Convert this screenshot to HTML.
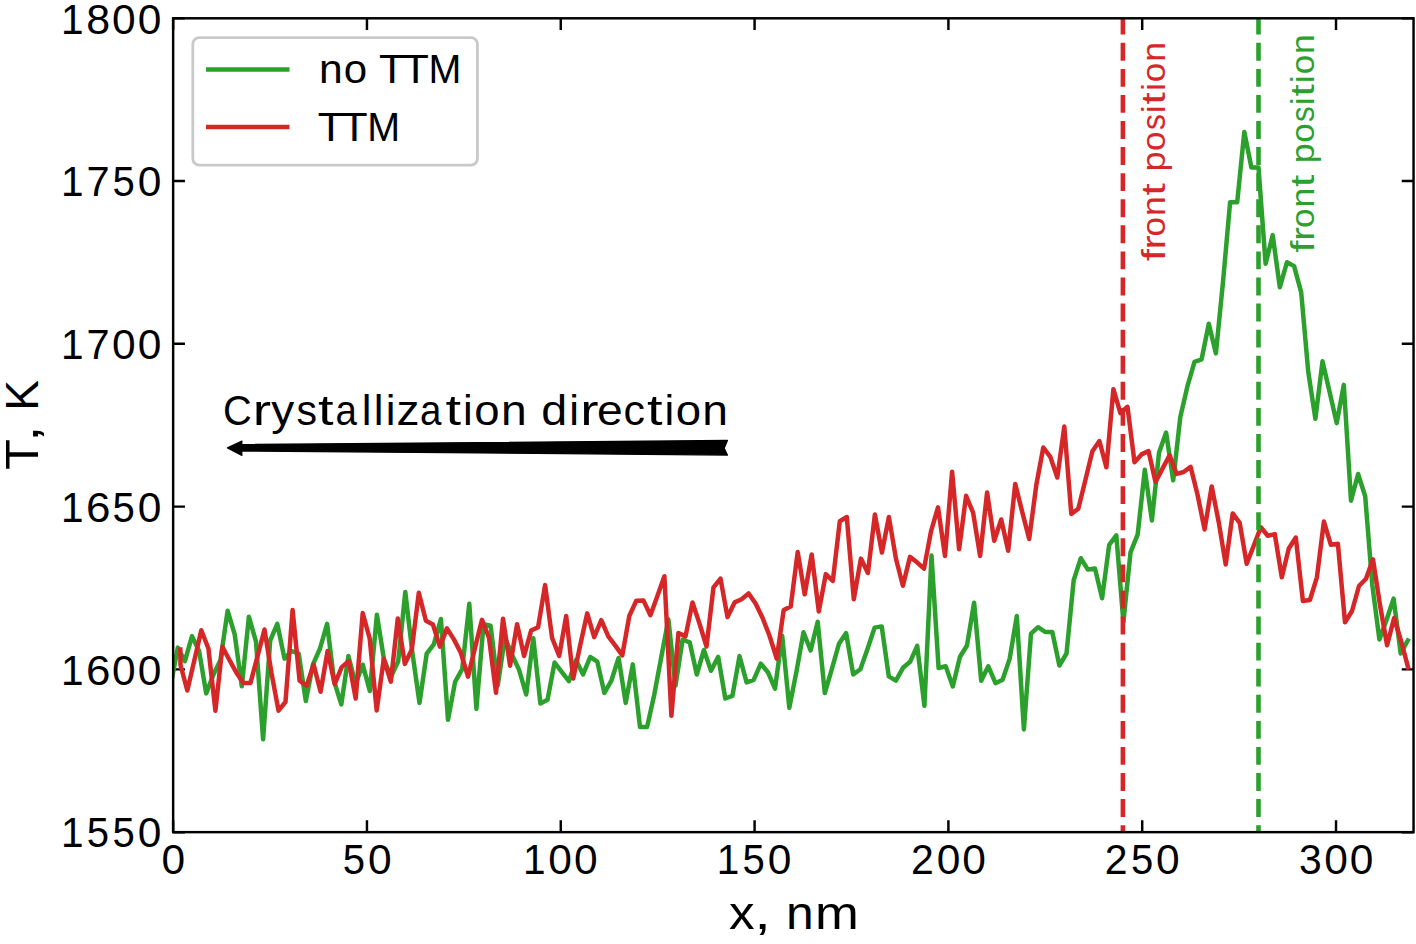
<!DOCTYPE html>
<html><head><meta charset="utf-8"><style>html,body{margin:0;padding:0;background:#fff;}svg{display:block;}</style></head>
<body><svg width="1416" height="944" viewBox="0 0 1416 944">
<rect width="1416" height="944" fill="#fff"/>
<defs><clipPath id="ax"><rect x="173.15" y="18.3" width="1240.3999999999999" height="813.85"/></clipPath></defs>
<g stroke="#000" stroke-width="2.45" fill="none" stroke-linecap="butt">
<path d="M173.15,832.15 V820.35 M173.15,18.3 V30.1"/>
<path d="M366.96,832.15 V820.35 M366.96,18.3 V30.1"/>
<path d="M560.77,832.15 V820.35 M560.77,18.3 V30.1"/>
<path d="M754.59,832.15 V820.35 M754.59,18.3 V30.1"/>
<path d="M948.40,832.15 V820.35 M948.40,18.3 V30.1"/>
<path d="M1142.21,832.15 V820.35 M1142.21,18.3 V30.1"/>
<path d="M1336.02,832.15 V820.35 M1336.02,18.3 V30.1"/>
<path d="M173.15,832.15 H184.95000000000002 M1413.55,832.15 H1401.75"/>
<path d="M173.15,669.38 H184.95000000000002 M1413.55,669.38 H1401.75"/>
<path d="M173.15,506.61 H184.95000000000002 M1413.55,506.61 H1401.75"/>
<path d="M173.15,343.84 H184.95000000000002 M1413.55,343.84 H1401.75"/>
<path d="M173.15,181.07 H184.95000000000002 M1413.55,181.07 H1401.75"/>
<path d="M173.15,18.30 H184.95000000000002 M1413.55,18.30 H1401.75"/>
</g>
<g clip-path="url(#ax)" fill="none" stroke-linejoin="round" stroke-linecap="square" stroke-width="4.5">
<path d="M170.7,685.0 L177.8,647.6 L184.9,661.2 L192.0,636.1 L199.1,651.0 L206.2,693.4 L213.4,674.7 L220.5,660.0 L227.6,610.7 L234.7,634.4 L241.8,686.3 L248.9,616.8 L256.0,641.7 L263.1,739.3 L270.2,640.5 L277.3,623.9 L284.5,658.6 L291.6,651.0 L298.7,653.6 L305.8,701.0 L312.9,664.6 L320.0,648.5 L327.1,623.9 L334.2,681.5 L341.3,704.4 L348.4,656.1 L355.6,684.0 L362.7,664.7 L369.8,691.0 L376.9,614.7 L384.0,659.7 L391.1,676.6 L398.2,661.4 L405.3,591.9 L412.4,652.9 L419.5,702.9 L426.7,653.7 L433.8,644.4 L440.9,619.0 L448.0,719.8 L455.1,681.8 L462.2,669.1 L469.3,603.8 L476.4,708.9 L483.5,624.2 L490.6,625.8 L497.8,685.2 L504.9,637.7 L512.0,654.7 L519.1,669.9 L526.2,694.5 L533.3,638.3 L540.4,703.5 L547.5,699.8 L554.6,662.5 L561.7,671.9 L568.9,681.2 L576.0,660.0 L583.1,674.4 L590.2,657.0 L597.3,661.7 L604.4,693.0 L611.5,680.3 L618.6,658.0 L625.7,702.9 L632.8,664.4 L640.0,726.9 L647.1,726.9 L654.2,695.0 L661.3,657.0 L668.4,619.4 L675.5,685.6 L682.6,639.7 L689.7,642.3 L696.8,674.5 L703.9,650.0 L711.0,670.8 L718.2,656.9 L725.3,698.5 L732.4,695.9 L739.5,656.1 L746.6,682.4 L753.7,679.8 L760.8,663.7 L767.9,672.2 L775.0,688.6 L782.2,635.9 L789.3,707.9 L796.4,671.9 L803.5,632.3 L810.6,650.5 L817.7,621.8 L824.8,693.1 L831.9,668.8 L839.0,643.7 L846.1,633.0 L853.2,674.4 L860.4,669.2 L867.5,649.0 L874.6,627.6 L881.7,626.4 L888.8,676.4 L895.9,680.7 L903.0,667.8 L910.1,661.8 L917.2,645.8 L924.4,705.8 L931.5,555.6 L938.6,668.0 L945.7,666.2 L952.8,686.5 L959.9,657.0 L967.0,645.5 L974.1,602.7 L981.2,680.7 L988.3,666.3 L995.5,683.2 L1002.6,679.8 L1009.7,658.6 L1016.8,616.0 L1023.9,729.4 L1031.0,633.6 L1038.1,627.2 L1045.2,632.0 L1052.3,632.0 L1059.4,665.5 L1066.5,653.5 L1073.7,580.1 L1080.8,558.2 L1087.9,569.6 L1095.0,568.6 L1102.1,598.2 L1109.2,544.8 L1116.3,535.3 L1123.4,622.0 L1130.5,552.4 L1137.7,534.3 L1144.8,469.8 L1151.9,520.5 L1159.0,452.8 L1166.1,432.5 L1173.2,480.3 L1180.3,417.0 L1187.4,386.4 L1194.5,361.9 L1201.6,359.3 L1208.8,323.7 L1215.9,353.4 L1223.0,282.0 L1230.1,202.3 L1237.2,202.3 L1244.3,132.0 L1251.4,167.5 L1258.5,167.5 L1265.6,263.8 L1272.7,235.1 L1279.8,287.3 L1287.0,262.2 L1294.1,266.1 L1301.2,292.4 L1308.3,372.2 L1315.4,418.8 L1322.5,361.2 L1329.6,392.0 L1336.7,423.1 L1343.8,384.9 L1351.0,500.7 L1358.1,474.0 L1365.2,496.3 L1372.3,585.0 L1379.4,639.5 L1386.5,620.0 L1393.6,598.6 L1400.7,653.4 L1407.8,640.5" stroke="#2ca02c"/>
<path d="M180.3,649.5 L180.5,665.0 L187.3,690.5 L194.3,660.5 L201.3,630.3 L208.4,648.5 L215.4,710.7 L222.4,646.8 L229.4,660.0 L236.4,672.7 L243.4,682.9 L250.5,682.9 L257.5,656.4 L264.5,629.5 L271.5,673.2 L278.5,710.7 L285.5,701.9 L292.6,610.0 L299.6,680.7 L306.6,685.8 L313.6,664.6 L320.6,691.7 L327.6,651.0 L334.7,684.1 L341.7,667.1 L348.7,661.2 L355.7,698.5 L362.7,613.1 L369.7,638.5 L376.7,710.5 L383.8,658.8 L390.8,681.7 L397.8,618.6 L404.8,663.9 L411.8,649.5 L418.8,592.7 L425.9,620.7 L432.9,624.4 L439.9,646.6 L446.9,628.4 L453.9,639.4 L460.9,653.0 L468.0,676.7 L475.0,647.9 L482.0,619.9 L489.0,637.7 L496.0,692.8 L503.0,618.7 L510.1,665.7 L517.1,624.2 L524.1,656.0 L531.1,630.6 L538.1,627.2 L545.1,585.1 L552.1,638.0 L559.2,655.8 L566.2,615.9 L573.2,678.6 L580.2,645.3 L587.2,613.4 L594.2,637.1 L601.3,620.2 L608.3,636.3 L615.3,645.6 L622.3,655.4 L629.3,616.0 L636.3,600.8 L643.4,600.4 L650.4,615.2 L657.4,596.0 L664.4,576.2 L671.4,715.8 L678.4,633.0 L685.5,636.4 L692.5,602.5 L699.5,623.6 L706.5,646.5 L713.5,587.3 L720.5,578.6 L727.5,617.1 L734.6,602.4 L741.6,599.3 L748.6,593.4 L755.6,603.6 L762.6,618.0 L769.6,636.0 L776.7,658.7 L783.7,610.0 L790.7,606.6 L797.7,552.0 L804.7,594.3 L811.7,554.5 L818.8,611.4 L825.8,574.1 L832.8,581.0 L839.8,521.2 L846.8,517.0 L853.8,599.3 L860.9,558.6 L867.9,573.0 L874.9,514.4 L881.9,552.5 L888.9,517.0 L895.9,558.5 L902.9,585.7 L910.0,556.9 L917.0,562.3 L924.0,568.7 L931.0,531.4 L938.0,507.4 L945.0,555.9 L952.1,471.8 L959.1,549.2 L966.1,495.8 L973.1,512.7 L980.1,555.9 L987.1,492.4 L994.2,540.7 L1001.2,519.5 L1008.2,550.8 L1015.2,483.9 L1022.2,511.9 L1029.2,539.0 L1036.3,485.0 L1043.3,447.5 L1050.3,456.9 L1057.3,477.5 L1064.3,426.6 L1071.3,513.9 L1078.3,508.8 L1085.4,480.0 L1092.4,451.2 L1099.4,441.0 L1106.4,467.3 L1113.4,389.2 L1120.4,413.1 L1127.5,406.8 L1134.5,462.3 L1141.5,454.4 L1148.5,451.1 L1155.5,482.0 L1162.5,468.6 L1169.6,455.3 L1176.6,473.9 L1183.6,472.0 L1190.6,466.9 L1197.6,495.0 L1204.6,529.5 L1211.7,486.4 L1218.7,522.0 L1225.7,564.5 L1232.7,513.4 L1239.7,522.8 L1246.7,563.8 L1253.7,545.8 L1260.8,527.3 L1267.8,535.8 L1274.8,534.1 L1281.8,577.3 L1288.8,548.5 L1295.8,537.5 L1302.9,601.0 L1309.9,600.0 L1316.9,577.3 L1323.9,521.6 L1330.9,544.8 L1337.9,543.8 L1345.0,622.3 L1352.0,611.0 L1359.0,586.0 L1366.0,578.8 L1373.0,559.3 L1380.0,605.0 L1387.1,645.3 L1394.1,618.0 L1401.1,641.0 L1408.1,667.4" stroke="#d62728"/>
<path d="M1122.9,-9.36 L1122.9,862.15" stroke="#d62728" stroke-width="4.6" stroke-linecap="butt" stroke-dasharray="17.9 8.18"/>
<path d="M1258.5,-9.36 L1258.5,862.15" stroke="#2ca02c" stroke-width="4.6" stroke-linecap="butt" stroke-dasharray="17.9 8.18"/>
</g>
<rect x="173.15" y="18.3" width="1240.3999999999999" height="813.85" fill="none" stroke="#000" stroke-width="2.45" stroke-linejoin="miter"/>
<text font-family="Liberation Sans, sans-serif" font-size="42.5" fill="#000" y="874.0"><tspan x="161.54" textLength="23.63" lengthAdjust="spacingAndGlyphs">0</tspan></text>
<text font-family="Liberation Sans, sans-serif" font-size="42.5" fill="#000" y="874.0"><tspan x="342.81" textLength="22.30" lengthAdjust="spacingAndGlyphs">5</tspan><tspan x="367.94" textLength="23.63" lengthAdjust="spacingAndGlyphs">0</tspan></text>
<text font-family="Liberation Sans, sans-serif" font-size="42.5" fill="#000" y="874.0"><tspan x="522.98" textLength="22.57" lengthAdjust="spacingAndGlyphs">1</tspan><tspan x="548.28" textLength="23.63" lengthAdjust="spacingAndGlyphs">0</tspan><tspan x="573.92" textLength="23.63" lengthAdjust="spacingAndGlyphs">0</tspan></text>
<text font-family="Liberation Sans, sans-serif" font-size="42.5" fill="#000" y="874.0"><tspan x="716.79" textLength="22.57" lengthAdjust="spacingAndGlyphs">1</tspan><tspan x="742.60" textLength="22.30" lengthAdjust="spacingAndGlyphs">5</tspan><tspan x="767.73" textLength="23.63" lengthAdjust="spacingAndGlyphs">0</tspan></text>
<text font-family="Liberation Sans, sans-serif" font-size="42.5" fill="#000" y="874.0"><tspan x="910.89" textLength="22.77" lengthAdjust="spacingAndGlyphs">2</tspan><tspan x="936.64" textLength="23.63" lengthAdjust="spacingAndGlyphs">0</tspan><tspan x="962.28" textLength="23.63" lengthAdjust="spacingAndGlyphs">0</tspan></text>
<text font-family="Liberation Sans, sans-serif" font-size="42.5" fill="#000" y="874.0"><tspan x="1104.71" textLength="22.77" lengthAdjust="spacingAndGlyphs">2</tspan><tspan x="1130.96" textLength="22.30" lengthAdjust="spacingAndGlyphs">5</tspan><tspan x="1156.09" textLength="23.63" lengthAdjust="spacingAndGlyphs">0</tspan></text>
<text font-family="Liberation Sans, sans-serif" font-size="42.5" fill="#000" y="874.0"><tspan x="1299.08" textLength="22.69" lengthAdjust="spacingAndGlyphs">3</tspan><tspan x="1324.21" textLength="23.63" lengthAdjust="spacingAndGlyphs">0</tspan><tspan x="1349.85" textLength="23.63" lengthAdjust="spacingAndGlyphs">0</tspan></text>
<text font-family="Liberation Sans, sans-serif" font-size="42.5" fill="#000" y="847.35"><tspan x="61.05" textLength="22.57" lengthAdjust="spacingAndGlyphs">1</tspan><tspan x="86.86" textLength="22.30" lengthAdjust="spacingAndGlyphs">5</tspan><tspan x="112.50" textLength="22.30" lengthAdjust="spacingAndGlyphs">5</tspan><tspan x="137.63" textLength="23.63" lengthAdjust="spacingAndGlyphs">0</tspan></text>
<text font-family="Liberation Sans, sans-serif" font-size="42.5" fill="#000" y="684.58"><tspan x="61.05" textLength="22.57" lengthAdjust="spacingAndGlyphs">1</tspan><tspan x="85.94" textLength="24.45" lengthAdjust="spacingAndGlyphs">6</tspan><tspan x="111.99" textLength="23.63" lengthAdjust="spacingAndGlyphs">0</tspan><tspan x="137.63" textLength="23.63" lengthAdjust="spacingAndGlyphs">0</tspan></text>
<text font-family="Liberation Sans, sans-serif" font-size="42.5" fill="#000" y="521.81"><tspan x="61.05" textLength="22.57" lengthAdjust="spacingAndGlyphs">1</tspan><tspan x="85.94" textLength="24.45" lengthAdjust="spacingAndGlyphs">6</tspan><tspan x="112.50" textLength="22.30" lengthAdjust="spacingAndGlyphs">5</tspan><tspan x="137.63" textLength="23.63" lengthAdjust="spacingAndGlyphs">0</tspan></text>
<text font-family="Liberation Sans, sans-serif" font-size="42.5" fill="#000" y="359.03999999999996"><tspan x="61.05" textLength="22.57" lengthAdjust="spacingAndGlyphs">1</tspan><tspan x="86.53" textLength="23.11" lengthAdjust="spacingAndGlyphs">7</tspan><tspan x="111.99" textLength="23.63" lengthAdjust="spacingAndGlyphs">0</tspan><tspan x="137.63" textLength="23.63" lengthAdjust="spacingAndGlyphs">0</tspan></text>
<text font-family="Liberation Sans, sans-serif" font-size="42.5" fill="#000" y="196.26999999999992"><tspan x="61.05" textLength="22.57" lengthAdjust="spacingAndGlyphs">1</tspan><tspan x="86.53" textLength="23.11" lengthAdjust="spacingAndGlyphs">7</tspan><tspan x="112.50" textLength="22.30" lengthAdjust="spacingAndGlyphs">5</tspan><tspan x="137.63" textLength="23.63" lengthAdjust="spacingAndGlyphs">0</tspan></text>
<text font-family="Liberation Sans, sans-serif" font-size="42.5" fill="#000" y="33.49999999999996"><tspan x="61.05" textLength="22.57" lengthAdjust="spacingAndGlyphs">1</tspan><tspan x="86.22" textLength="23.88" lengthAdjust="spacingAndGlyphs">8</tspan><tspan x="111.99" textLength="23.63" lengthAdjust="spacingAndGlyphs">0</tspan><tspan x="137.63" textLength="23.63" lengthAdjust="spacingAndGlyphs">0</tspan></text>
<text font-family="Liberation Sans, sans-serif" font-size="46.2" fill="#000" y="929.0"><tspan x="729.12" textLength="25.62" lengthAdjust="spacingAndGlyphs">x</tspan><tspan x="754.22" textLength="16.69" lengthAdjust="spacingAndGlyphs">,</tspan> <tspan x="785.95" textLength="27.69" lengthAdjust="spacingAndGlyphs">n</tspan><tspan x="815.03" textLength="43.83" lengthAdjust="spacingAndGlyphs">m</tspan></text>
<text font-family="Liberation Sans, sans-serif" font-size="46.2" fill="#000" transform="translate(37.95,468.7) rotate(-90)"><tspan x="-1.12" y="0" textLength="30.57" lengthAdjust="spacingAndGlyphs">T</tspan><tspan x="26.65" y="0" textLength="16.69" lengthAdjust="spacingAndGlyphs">,</tspan> <tspan x="58.05" y="0" textLength="30.87" lengthAdjust="spacingAndGlyphs">K</tspan></text>
<rect x="192.8" y="37.6" width="284.6" height="127.5" rx="6.5" fill="#fff" fill-opacity="0.8" stroke="#c9c9c9" stroke-width="2.8"/>
<path d="M206,69.4 H289.5" stroke="#2ca02c" stroke-width="4.5" stroke-linecap="butt"/>
<path d="M206,127 H289.5" stroke="#d62728" stroke-width="4.5" stroke-linecap="butt"/>
<text font-family="Liberation Sans, sans-serif" font-size="41.5" fill="#000" y="83.3"><tspan x="319.07" textLength="23.71" lengthAdjust="spacingAndGlyphs">n</tspan><tspan x="343.79" textLength="23.38" lengthAdjust="spacingAndGlyphs">o</tspan> <tspan x="379.05" textLength="26.34" lengthAdjust="spacingAndGlyphs">T</tspan><tspan x="402.51" textLength="26.34" lengthAdjust="spacingAndGlyphs">T</tspan><tspan x="428.39" textLength="32.84" lengthAdjust="spacingAndGlyphs">M</tspan></text>
<text font-family="Liberation Sans, sans-serif" font-size="41.5" fill="#000" y="140.95"><tspan x="317.83" textLength="26.35" lengthAdjust="spacingAndGlyphs">T</tspan><tspan x="341.29" textLength="26.35" lengthAdjust="spacingAndGlyphs">T</tspan><tspan x="367.19" textLength="32.85" lengthAdjust="spacingAndGlyphs">M</tspan></text>
<text font-family="Liberation Sans, sans-serif" font-size="43.21" fill="#000" y="424.6"><tspan x="222.88" textLength="28.72" lengthAdjust="spacingAndGlyphs">C</tspan><tspan x="252.65" textLength="18.28" lengthAdjust="spacingAndGlyphs">r</tspan><tspan x="271.19" textLength="23.00" lengthAdjust="spacingAndGlyphs">y</tspan><tspan x="296.56" textLength="20.53" lengthAdjust="spacingAndGlyphs">s</tspan><tspan x="318.14" textLength="15.61" lengthAdjust="spacingAndGlyphs">t</tspan><tspan x="335.43" textLength="21.43" lengthAdjust="spacingAndGlyphs">a</tspan><tspan x="361.84" textLength="9.73" lengthAdjust="spacingAndGlyphs">l</tspan><tspan x="373.74" textLength="9.73" lengthAdjust="spacingAndGlyphs">l</tspan><tspan x="385.66" textLength="9.73" lengthAdjust="spacingAndGlyphs">i</tspan><tspan x="396.44" textLength="22.95" lengthAdjust="spacingAndGlyphs">z</tspan><tspan x="419.89" textLength="21.43" lengthAdjust="spacingAndGlyphs">a</tspan><tspan x="445.64" textLength="15.61" lengthAdjust="spacingAndGlyphs">t</tspan><tspan x="463.11" textLength="9.73" lengthAdjust="spacingAndGlyphs">i</tspan><tspan x="474.36" textLength="25.33" lengthAdjust="spacingAndGlyphs">o</tspan><tspan x="500.94" textLength="25.69" lengthAdjust="spacingAndGlyphs">n</tspan> <tspan x="541.30" textLength="25.90" lengthAdjust="spacingAndGlyphs">d</tspan><tspan x="569.19" textLength="9.73" lengthAdjust="spacingAndGlyphs">i</tspan><tspan x="580.23" textLength="18.28" lengthAdjust="spacingAndGlyphs">r</tspan><tspan x="597.06" textLength="25.74" lengthAdjust="spacingAndGlyphs">e</tspan><tspan x="623.56" textLength="21.49" lengthAdjust="spacingAndGlyphs">c</tspan><tspan x="647.01" textLength="15.61" lengthAdjust="spacingAndGlyphs">t</tspan><tspan x="664.48" textLength="9.73" lengthAdjust="spacingAndGlyphs">i</tspan><tspan x="675.73" textLength="25.33" lengthAdjust="spacingAndGlyphs">o</tspan><tspan x="702.31" textLength="25.69" lengthAdjust="spacingAndGlyphs">n</tspan></text>
<path d="M227.5,447.8 L241.9,441.2 L241.6,444.6 L727.4,440.5 L724.1,448.2 L727.4,455.1 L241.6,450.9 L241.9,455.3 Z" fill="#000" stroke="#000" stroke-width="1.3" stroke-linejoin="round"/>
<text font-family="Liberation Sans, sans-serif" font-size="34.0" fill="#d62728" transform="translate(1164.9,260.5) rotate(-90)"><tspan x="-0.61" y="0" textLength="12.05" lengthAdjust="spacingAndGlyphs">f</tspan><tspan x="11.06" y="0" textLength="14.09" lengthAdjust="spacingAndGlyphs">r</tspan><tspan x="24.07" y="0" textLength="19.52" lengthAdjust="spacingAndGlyphs">o</tspan><tspan x="44.56" y="0" textLength="19.80" lengthAdjust="spacingAndGlyphs">n</tspan><tspan x="65.07" y="0" textLength="12.26" lengthAdjust="spacingAndGlyphs">t</tspan> <tspan x="88.98" y="0" textLength="19.98" lengthAdjust="spacingAndGlyphs">p</tspan><tspan x="109.61" y="0" textLength="19.52" lengthAdjust="spacingAndGlyphs">o</tspan><tspan x="130.38" y="0" textLength="15.83" lengthAdjust="spacingAndGlyphs">s</tspan><tspan x="147.53" y="0" textLength="7.50" lengthAdjust="spacingAndGlyphs">i</tspan><tspan x="156.07" y="0" textLength="12.26" lengthAdjust="spacingAndGlyphs">t</tspan><tspan x="169.65" y="0" textLength="7.50" lengthAdjust="spacingAndGlyphs">i</tspan><tspan x="178.32" y="0" textLength="19.52" lengthAdjust="spacingAndGlyphs">o</tspan><tspan x="198.81" y="0" textLength="19.80" lengthAdjust="spacingAndGlyphs">n</tspan></text>
<text font-family="Liberation Sans, sans-serif" font-size="34.0" fill="#2ca02c" transform="translate(1314.15,251.9) rotate(-90)"><tspan x="-0.61" y="0" textLength="12.00" lengthAdjust="spacingAndGlyphs">f</tspan><tspan x="11.01" y="0" textLength="14.03" lengthAdjust="spacingAndGlyphs">r</tspan><tspan x="23.97" y="0" textLength="19.44" lengthAdjust="spacingAndGlyphs">o</tspan><tspan x="44.37" y="0" textLength="19.72" lengthAdjust="spacingAndGlyphs">n</tspan><tspan x="64.80" y="0" textLength="12.21" lengthAdjust="spacingAndGlyphs">t</tspan> <tspan x="88.61" y="0" textLength="19.90" lengthAdjust="spacingAndGlyphs">p</tspan><tspan x="109.15" y="0" textLength="19.44" lengthAdjust="spacingAndGlyphs">o</tspan><tspan x="129.83" y="0" textLength="15.76" lengthAdjust="spacingAndGlyphs">s</tspan><tspan x="146.91" y="0" textLength="7.47" lengthAdjust="spacingAndGlyphs">i</tspan><tspan x="155.42" y="0" textLength="12.21" lengthAdjust="spacingAndGlyphs">t</tspan><tspan x="168.94" y="0" textLength="7.47" lengthAdjust="spacingAndGlyphs">i</tspan><tspan x="177.58" y="0" textLength="19.44" lengthAdjust="spacingAndGlyphs">o</tspan><tspan x="197.98" y="0" textLength="19.72" lengthAdjust="spacingAndGlyphs">n</tspan></text>
</svg></body></html>
